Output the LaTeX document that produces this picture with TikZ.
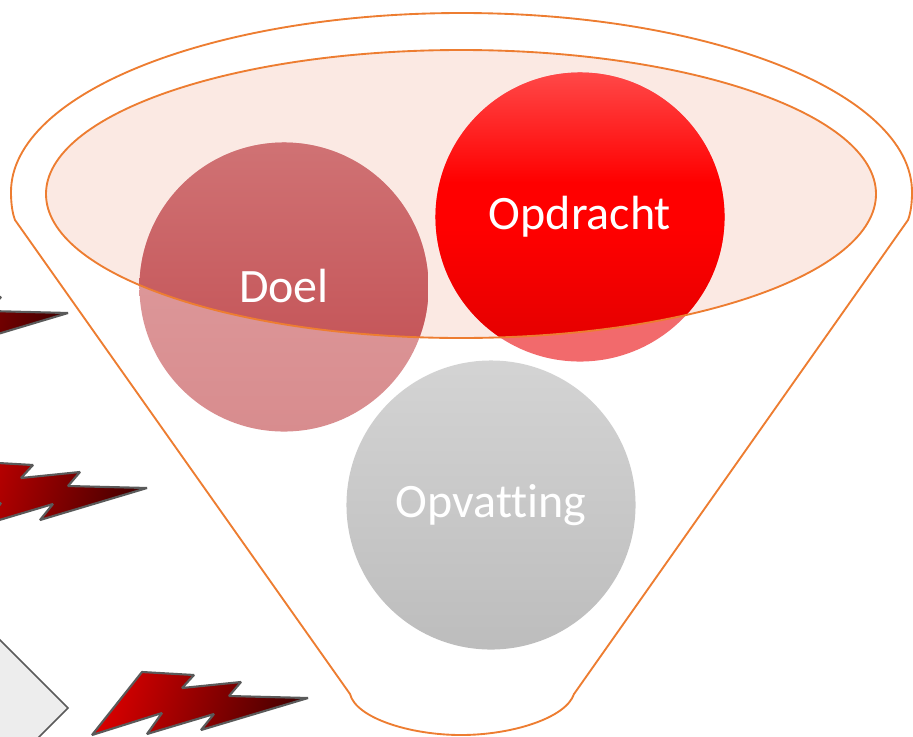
\documentclass[tikz,border=0pt]{standalone}
\usepackage{fontspec}
\setmainfont{Carlito}[Ligatures=NoCommon]
\usepackage{xcolor}
\definecolor{funnelline}{HTML}{ED7D31}
\definecolor{funnelfill}{HTML}{FBE9E3}
\definecolor{boltline}{HTML}{5A5A5A}
\definecolor{doeltop}{HTML}{D07274}
\definecolor{doelbottom}{HTML}{C04A4E}
\definecolor{doelpaletop}{HTML}{E0A0A2}
\definecolor{doelpalebottom}{HTML}{D88C8E}
\definecolor{opdrachtpale}{HTML}{F26A6C}
\definecolor{opdrachttop}{HTML}{FF4848}
\definecolor{opdrachtbottom}{HTML}{E00000}
\pgfdeclareverticalshading{opdrachtshade}{100bp}{
  color(0bp)=(opdrachtbottom); color(25bp)=(opdrachtbottom); color(48bp)=(red);
  color(56bp)=(red); color(75bp)=(opdrachttop); color(100bp)=(opdrachttop)}
\newcommand{\boltshape}[2]{%
  \draw[bolt, shift={(#1,#2)}] (142,672) -- (194,675) -- (182,688) -- (241,682) -- (229,696) -- (308,698)
    -- (201,730) -- (214,714) -- (147,734) -- (162,713) -- (92,735) -- cycle;}
\begin{document}
\begin{tikzpicture}[
          x=0.75pt, y=-0.75pt,
          funnel/.style={draw=funnelline, line width=1.4pt},
          bolt/.style={draw=boltline, line width=1.6pt, line join=bevel, left color=red!85!black, right color=red!28!black, shading angle=75},
          bubble/.style={circle, minimum size=216.8pt, inner sep=0pt, text=white, font=\fontsize{36}{43}\selectfont},
          caption/.style={text=white, inner sep=0pt, font=\fontsize{36}{43}\selectfont}
        ]
        \clip (0,0) rectangle (913,736);

        % Bolts and the corner box
        \boltshape{-240}{-385}
        \boltshape{-161}{-210}
        \boltshape{0}{0}
        \draw[draw=boltline, line width=1.3pt, fill=black!7] (-10,630) -- (68,708) -- (30,746) -- (-10,746) -- cycle;

        % Funnel
        \draw[funnel] (15,220) .. controls (12,212) and (11,202) .. (11,192)
          arc [start angle=180, end angle=360, x radius=450.5, y radius=179]
          .. controls (912,202) and (911,212) .. (908,220)
          -- (574,694) .. controls (566,718) and (512,735) .. (461,735)
          .. controls (410,735) and (356,718) .. (350,694) -- cycle;
        \fill[funnelfill] (461,194) ellipse [x radius=415, y radius=144];

        % Bubbles, paler outside the inner ellipse
        \node[bubble, top color=black!17, bottom color=black!26] (opvatting) at (491,505) {Opvatting};
        \node[bubble, fill=opdrachtpale] (opdrachtlight) at (580,217) {};
        \node[bubble, top color=doelpaletop, bottom color=doelpalebottom] (doellight) at (284,287) {};
        \begin{scope}
          \clip (461,194) ellipse [x radius=415, y radius=144];
          \node[bubble, shading=opdrachtshade] (opdrachtdark) at (580,217) {};
          \node[bubble, top color=doeltop, bottom color=doelbottom] (doeldark) at (284,287) {};
        \end{scope}
        \node[caption] (doel) at (284,286) {Doel};
        \node[caption] (opdracht) at (580,217) {Opdracht};

        % Inner rim
        \draw[funnel] (461,194) ellipse [x radius=415, y radius=144];
\end{tikzpicture}
\end{document}
